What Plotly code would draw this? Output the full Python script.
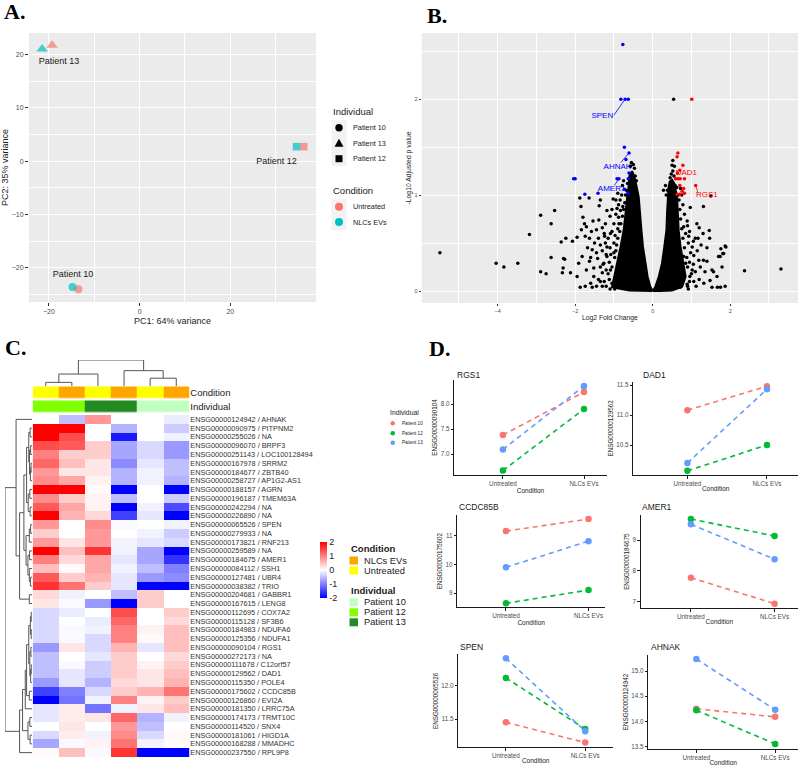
import plotly.graph_objects as go

W, H = 800, 766
def X(px): return px / W
def Y(py): return 1 - py / H
def XD(a, b): return [a / W, b / W]
def YD(top, bot): return [1 - bot / H, 1 - top / H]

FONT = "Liberation Sans, Arial, sans-serif"
SERIF = "Liberation Serif, Times New Roman, serif"
GREY_BG = "#EBEBEB"
TICK_GREY = "#4D4D4D"

# ---------------- Panel A data (PCA) ----------------
pca_individual = ["Patient 10", "Patient 10", "Patient 12", "Patient 12", "Patient 13", "Patient 13"]
pca_condition = ["Untreated", "NLCs EVs", "Untreated", "NLCs EVs", "Untreated", "NLCs EVs"]
pc1 = [-13.5, -14.8, 36.2, 34.6, -19.3, -21.5]
pc2 = [-24.0, -23.6, 2.7, 2.7, 21.7, 21.0]
pca_label_text = ["Patient 13", "Patient 12", "Patient 10"]
pca_label_x = [-17.8, 30.2, -14.7]
pca_label_y = [18.7, -0.2, -21.2]

# ---------------- Panel B data (volcano) ----------------
volc_core_left_x = [0.0, -0.06, -0.13, -0.19, -0.25, -0.29, -0.32, -0.36, -0.42, -0.48, -0.53, -0.6, -0.63, -0.66, -0.70, -0.75, -0.83, -0.92, -1.0, -1.05, -0.6, -0.2, 0.0]
volc_core_left_y = [0.0, 0.045, 0.149, 0.288, 0.462, 0.635, 0.809, 0.98, 1.1, 1.2, 1.25, 1.2, 1.05, 0.98, 0.81, 0.635, 0.46, 0.29, 0.15, 0.04, 0.005, 0.0, 0.0]
volc_core_right_x = [0.0, 0.07, 0.156, 0.24, 0.30, 0.355, 0.37, 0.39, 0.41, 0.44, 0.5, 0.56, 0.6, 0.63, 0.65, 0.67, 0.72, 0.80, 0.85, 0.76, 0.5, 0.2, 0.0]
volc_core_right_y = [0.0, 0.045, 0.149, 0.288, 0.462, 0.635, 0.809, 0.98, 1.08, 1.14, 1.16, 1.12, 1.05, 0.98, 0.81, 0.635, 0.462, 0.288, 0.15, 0.045, 0.005, 0.0, 0.0]
volc_black_pts = [
    (-5.49, 0.40), (-4.04, 0.29), (-3.84, 0.25), (-3.48, 0.29), (-3.18, 0.59), (-2.89, 0.79), (-2.89, 0.20),
    (-2.75, 0.18), (-2.53, 0.84), (-2.62, 0.70), (-2.62, 0.35), (-2.36, 0.51), (-2.24, 0.55), (-2.27, 0.33),
    (-2.31, 0.24), (-2.33, 0.19), (-2.07, 0.52), (-1.95, 0.56), (-1.88, 0.97), (-1.64, 0.97), (-1.35, 0.95),
    (-1.38, 0.89), (-1.85, 0.88), (-1.80, 0.77), (-1.76, 0.70), (-1.71, 0.67), (-1.54, 0.73), (-1.84, 0.64),
    (-1.74, 0.57), (-1.63, 0.55), (-1.45, 0.64), (-1.30, 0.66), (-1.24, 0.57), (-1.09, 0.60), (-1.35, 0.48),
    (-1.18, 0.46), (-1.0, 0.50), (-1.56, 0.43), (-1.82, 0.36), (-1.91, 0.29), (-1.63, 0.31), (-1.42, 0.34),
    (-1.18, 0.36), (-1.71, 0.22), (-1.52, 0.24), (-1.30, 0.19), (-1.09, 0.22), (-0.88, 0.77), (-0.83, 0.84),
    (-0.92, 0.86), (-1.18, 0.84), (-1.39, 0.74), (-1.87, 0.04), (-1.74, 0.05), (-1.56, 0.04), (-1.35, 0.10),
    (-0.96, 0.08), (-1.95, 0.15), (-2.12, 0.19), (-0.83, 0.25), (-0.88, 0.15), (-1.52, 0.15), (-1.26, 0.29),
    (-1.02, 0.96), (-2.30, 0.34),
    (-1.1, 0.02), (-1.2, 0.05), (-1.25, 0.1), (-1.15, 0.18), (-1.05, 0.25), (-0.98, 0.35), (-0.95, 0.42),
    (-0.9, 0.55), (-0.85, 0.62), (-0.82, 0.7), (-0.78, 0.78), (-0.75, 0.85), (-0.72, 0.92), (-0.7, 1.0),
    (-0.68, 1.05), (-0.65, 1.12), (-0.57, 1.3), (-0.55, 1.34), (-0.5, 1.32), (-0.47, 1.28), (-0.45, 1.2),
    (-0.42, 1.15), (-0.88, 0.9), (-0.95, 0.8), (-1.0, 0.7), (-1.05, 0.62), (-1.1, 0.45), (-1.2, 0.38),
    (-1.28, 0.28), (-1.4, 0.12), (-1.45, 0.05), (-1.6, 0.08), (-0.84, 0.95), (-0.8, 1.0), (-0.77, 0.88),
    (-1.12, 0.3), (-1.08, 0.38), (-1.0, 0.4), (-0.93, 0.48), (-0.97, 0.58), (-0.9, 0.65), (-0.87, 0.7),
    (-1.15, 0.55), (-1.22, 0.5), (-1.3, 0.42), (-1.25, 0.6), (-1.4, 0.55), (-1.5, 0.5), (-1.45, 0.4),
    (-1.6, 0.35), (-1.35, 0.25), (-1.2, 0.22), (-1.12, 0.12), (-1.3, 0.05), (-1.05, 0.08), (-0.98, 0.02),
    (-1.68, 0.45), (-1.58, 0.62), (-1.22, 0.7), (-1.1, 0.78), (-1.05, 0.85), (-0.95, 0.95), (-0.9, 1.02),
    (-0.78, 1.1), (-0.75, 1.15),
    (0.54, 2.0), (1.5, 0.99), (1.31, 0.88), (1.14, 0.70), (1.10, 0.55), (1.17, 0.55), (1.46, 0.63), (1.47, 0.55),
    (1.76, 0.44), (1.87, 0.47), (1.81, 0.39), (1.74, 0.36), (2.37, 0.21), (3.31, 0.23), (1.87, 0.05),
    (1.67, 0.04), (1.48, 0.11), (1.57, 0.20), (1.23, 0.25), (1.31, 0.32),
    (0.97, 0.87), (1.02, 0.46), (0.89, 0.73), (0.80, 0.67), (0.93, 0.57), (1.06, 0.37), (0.85, 0.29),
    (1.40, 0.31), (1.53, 0.22), (1.66, 0.15), (1.79, 0.25), (1.83, 0.39), (1.89, 0.46), (1.75, 0.04),
    (1.53, 0.04), (1.32, 0.08), (1.06, 0.10), (0.89, 0.07), (0.71, 0.04), (1.70, 0.36), (1.19, 0.32),
    (1.02, 0.22), (0.76, 0.19), (0.63, 0.12), (0.80, 0.36), (0.96, 0.15),
    (0.9, 0.05), (0.95, 0.1), (1.0, 0.18), (0.9, 0.25), (0.88, 0.35), (0.82, 0.45), (0.78, 0.55),
    (0.75, 0.65), (0.72, 0.75), (0.7, 0.85), (0.68, 0.95), (0.66, 1.0), (0.55, 1.2), (0.52, 1.25),
    (0.5, 1.31), (0.48, 1.22), (0.45, 1.18), (0.58, 1.1), (0.62, 1.08), (1.05, 0.28), (0.98, 0.4),
    (0.92, 0.5), (0.85, 0.6), (0.35, 1.0), (0.38, 1.05), (0.52, 1.36), (0.56, 1.3),
    (0.92, 0.02), (1.12, 0.05), (1.2, 0.12), (1.1, 0.2), (0.95, 0.3), (1.15, 0.42), (1.25, 0.48),
    (1.05, 0.52), (0.95, 0.62), (0.9, 0.68), (0.82, 0.8), (0.78, 0.9), (0.75, 1.0), (0.72, 1.07),
    (1.35, 0.2), (1.4, 0.45), (1.3, 0.6), (1.2, 0.66), (0.28, 1.05), (0.33, 1.1),
]
volc_blue_pts = [(-0.77, 2.57), (-0.82, 2.0), (-0.71, 2.0), (-0.63, 2.0), (-0.73, 1.5), (-0.61, 1.44),
                 (-0.69, 1.37), (-0.61, 1.23), (-0.63, 1.17), (-2.04, 1.17), (-2.0, 1.17), (-0.92, 1.17),
                 (-0.87, 1.17), (-0.73, 1.06), (-1.75, 1.01), (-1.41, 1.02), (-0.64, 1.02)]
volc_red_pts = [(1.01, 2.0), (0.65, 1.44), (0.63, 1.40), (0.78, 1.31), (0.70, 1.26), (0.64, 1.23),
                (0.59, 1.17), (0.65, 1.17), (0.71, 1.17), (0.82, 1.17), (0.70, 1.10), (1.11, 1.10),
                (0.80, 1.07), (0.76, 1.04), (0.63, 1.01), (0.70, 1.01), (0.82, 1.02)]
volc_label_text = ["SPEN", "AHNAK", "AMER1", "DAD1", "RGS1"]
volc_label_color = ["#0000FF", "#0000FF", "#0000FF", "#FF0000", "#FF0000"]
volc_label_x = [-1.30, -0.91, -1.06, 0.87, 1.40]
volc_label_y = [1.82, 1.295, 1.066, 1.23, 1.0]
volc_seg_x0 = [-1.0, -0.82, -0.99, None, 1.11]
volc_seg_y0 = [1.833, 1.34, 1.10, None, 1.10]
volc_seg_x1 = [-0.73, -0.61, -0.87, None, 1.17]
volc_seg_y1 = [1.99, 1.44, 1.17, None, 1.02]

# ---------------- Panel C data (heatmap) ----------------
heat_ensembl = ["ENSG00000124942", "ENSG00000090975", "ENSG00000255026", "ENSG00000096070", "ENSG00000251143",
                "ENSG00000167978", "ENSG00000184677", "ENSG00000258727", "ENSG00000188157", "ENSG00000196187",
                "ENSG00000242294", "ENSG00000226890", "ENSG00000065526", "ENSG00000279933", "ENSG00000173821",
                "ENSG00000259589", "ENSG00000184675", "ENSG00000084112", "ENSG00000127481", "ENSG00000038382",
                "ENSG00000204681", "ENSG00000167615", "ENSG00000112695", "ENSG00000115128", "ENSG00000184983",
                "ENSG00000125356", "ENSG00000090104", "ENSG00000272173", "ENSG00000111678", "ENSG00000129562",
                "ENSG00000115350", "ENSG00000175602", "ENSG00000126860", "ENSG00000181350", "ENSG00000174173",
                "ENSG00000114520", "ENSG00000181061", "ENSG00000168288", "ENSG00000237550"]
heat_symbol = ["AHNAK", "PITPNM2", "NA", "BRPF3", "LOC100128494", "SRRM2", "ZBTB40", "AP1G2-AS1", "AGRN",
               "TMEM63A", "NA", "NA", "SPEN", "NA", "RNF213", "NA", "AMER1", "SSH1", "UBR4", "TRIO", "GABBR1",
               "LENG8", "COX7A2", "SF3B6", "NDUFA6", "NDUFA1", "RGS1", "NA", "C12orf57", "DAD1", "POLE4",
               "CCDC85B", "EVI2A", "LRRC75A", "TRMT10C", "SNX4", "HIGD1A", "MMADHC", "RPL9P8"]
heat_col_condition = ["Untreated", "NLCs EVs", "Untreated", "NLCs EVs", "Untreated", "NLCs EVs"]
heat_col_individual = ["Patient 12", "Patient 12", "Patient 13", "Patient 13", "Patient 10", "Patient 10"]
heat_values = [
    [0.0, -0.5, 0.8, 0.0, 0.0, -0.15],
    [2.0, 2.0, 0.0, -0.6, 0.0, -0.4],
    [2.0, 1.4, 0.0, -1.8, 0.0, -0.1],
    [1.4, 1.3, 0.4, -0.7, -0.3, -0.8],
    [1.0, 0.4, 0.4, -0.7, -0.3, -0.8],
    [1.2, 0.5, 0.2, -0.9, -0.2, -0.5],
    [0.8, 0.2, 0.2, -0.6, -0.1, -0.5],
    [0.9, 0.7, 0.1, -0.6, -0.1, -0.6],
    [2.0, 2.0, 0.05, -2.0, 0.0, -2.0],
    [0.9, 0.4, 0.1, -0.5, 0.0, -0.4],
    [1.3, 0.7, 0.1, -2.0, -0.1, -1.4],
    [2.0, 0.6, 0.3, -1.5, -0.2, -2.0],
    [0.8, 0.0, 0.9, -0.05, 0.0, -0.1],
    [0.4, 0.0, 0.8, 0.0, -0.1, -0.4],
    [0.8, 0.2, 0.8, -0.1, -0.2, -0.3],
    [2.0, 0.5, 1.6, -0.1, -0.7, -2.0],
    [1.0, 0.3, 0.7, -0.2, -0.7, -1.6],
    [0.5, 0.05, 0.7, -0.1, -0.5, -1.0],
    [1.3, 0.4, 0.6, -0.2, -0.8, -0.9],
    [1.6, 1.1, 0.4, -0.2, -2.0, -2.0],
    [0.3, -0.1, 0.0, -0.5, 0.4, 0.0],
    [0.2, -0.05, -0.8, -2.0, 0.4, 0.0],
    [-0.3, -0.15, 0.0, 1.4, 0.0, 0.4],
    [-0.3, 0.0, -0.15, 1.2, 0.0, 0.3],
    [-0.3, -0.05, -0.1, 1.0, 0.1, 0.5],
    [-0.3, -0.05, -0.3, 1.0, 0.05, 0.5],
    [-0.8, 0.2, -0.3, 0.6, -0.2, 0.5],
    [-0.5, 0.0, -0.2, 0.4, 0.0, 0.3],
    [-0.5, -0.05, -0.4, 0.4, 0.1, 0.4],
    [-0.5, -0.2, -0.4, 0.4, 0.2, 0.5],
    [-0.8, -0.2, -0.6, 0.3, 0.2, 0.6],
    [-1.5, -1.0, -0.3, 0.4, 0.6, 1.1],
    [-2.0, -1.1, -0.1, 1.0, 0.1, 0.4],
    [-0.2, 0.15, -1.1, -0.1, 0.2, 0.5],
    [-0.2, 0.15, 0.2, 1.2, -0.6, -0.1],
    [0.0, 0.2, 0.0, 0.8, -0.5, 0.0],
    [-0.3, 0.15, -0.1, 0.9, -0.3, 0.05],
    [-0.7, -0.05, 0.1, 1.1, -0.1, 0.05],
    [0.05, 0.5, -0.05, 1.6, -2.0, -2.0],
]
# dendrograms: [height, left, right]; leaves are column / row indices
heat_col_tree = [1.0, [0.46, [0.14, 0, 1], 2], [0.59, 3, [0.30, 4, 5]]]
_rows_a = [0.2, [0.12, [0.07, 1, 2], [0.09, [0.05, 3, 4], [0.06, [0.035, 5, 6], 7]]], [0.14, [0.08, 8, 9], [0.07, 10, 11]]]
_rows_b = [0.22, [0.1, [0.05, 12, 13], 14], [0.15, [0.09, 15, 16], [0.1, 17, [0.06, 18, 19]]]]
_rows_c = [0.2, [0.12, [0.06, [0.03, 22, 23], [0.03, 24, 25]], [0.08, [0.04, 26, 27], [0.05, [0.03, 28, 29], 30]]], [0.1, 31, 32]]
heat_row_tree = [1.0,
                 [0.59, 0, [0.46, [0.3, _rows_a, _rows_b], [0.1, 20, 21]]],
                 [0.46, [0.35, [0.25, _rows_c, 33], [0.15, [0.08, 34, 35], [0.07, 36, 37]]], 38]]

# ---------------- Panel D data ----------------
d_genes = ["RGS1", "DAD1", "CCDC85B", "AMER1", "SPEN", "AHNAK"]
d_ensembl = ["ENSG00000090104", "ENSG00000129562", "ENSG00000175602", "ENSG00000184675", "ENSG00000065526", "ENSG00000124942"]
d_conditions = ["Untreated", "NLCs EVs"]
p10_untreated = [7.38, 11.08, 11.16, 7.78, 11.45, 14.25]
p10_nlcs = [8.24, 11.48, 11.58, 6.94, 11.15, 14.09]
p12_untreated = [6.67, 10.07, 8.65, 9.68, 12.11, 14.22]
p12_nlcs = [7.90, 10.50, 9.11, 9.13, 11.35, 13.55]
p13_untreated = [7.09, 10.20, 9.90, 9.51, 12.40, 15.24]
p13_nlcs = [8.36, 11.43, 10.81, 8.38, 11.32, 14.23]
d_ticks = [[7.0, 7.5, 8.0], [10.5, 11.0, 11.5], [9, 10, 11], [7, 8, 9], [11.5, 12.0], [13.5, 14.0, 14.5, 15.0]]

# =====================================================================
fig = go.Figure()
shapes, annotations = [], []
layout = dict(width=W, height=H, margin=dict(l=0, r=0, t=0, b=0), paper_bgcolor="white",
              plot_bgcolor="white", showlegend=False, font=dict(family=FONT, color="#1a1a1a"))

# ---------- Panel A ----------
cond_colors = {"Untreated": "#F8766D", "NLCs EVs": "#00BFC4"}
indiv_symbols = {"Patient 10": "circle", "Patient 12": "square", "Patient 13": "triangle-up"}
indiv_sizes = {"Patient 10": 8, "Patient 12": 7.5, "Patient 13": 10}
for cond in ["Untreated", "NLCs EVs"]:
    idx = [i for i, c in enumerate(pca_condition) if c == cond]
    fig.add_trace(go.Scatter(
        x=[pc1[i] for i in idx], y=[pc2[i] for i in idx], mode="markers", xaxis="x", yaxis="y",
        marker=dict(color=cond_colors[cond], symbol=[indiv_symbols[pca_individual[i]] for i in idx],
                    size=[indiv_sizes[pca_individual[i]] for i in idx], line=dict(width=0)),
        hoverinfo="skip"))
fig.add_trace(go.Scatter(x=pca_label_x, y=pca_label_y, text=pca_label_text, mode="text", xaxis="x", yaxis="y",
                         textfont=dict(size=9, color="#1a1a1a"), hoverinfo="skip"))
axA = dict(showgrid=True, gridcolor="white", gridwidth=1, zeroline=False, ticks="outside", ticklen=3,
           tickcolor="#333333", tickfont=dict(size=7, color=TICK_GREY), showline=False)
layout["xaxis"] = dict(axA, domain=XD(29, 316), range=[-24.4, 38.9], tickvals=[-20, 0, 20], anchor="y",
                       minor=dict(tickvals=[-10, 10, 30], showgrid=True, gridcolor="white", gridwidth=0.5),
                       title=dict(text="PC1: 64% variance", font=dict(size=9), standoff=3))
layout["yaxis"] = dict(axA, domain=YD(33, 302), range=[-26.4, 24.0], tickvals=[-20, -10, 0, 10, 20], anchor="x",
                       minor=dict(tickvals=[-25, -15, -5, 5, 15], showgrid=True, gridcolor="white", gridwidth=0.5),
                       title=dict(text="PC2: 35% variance", font=dict(size=9), standoff=3))
shapes.append(dict(type="rect", xref="x domain", yref="y domain", x0=0, x1=1, y0=0, y1=1,
                   fillcolor=GREY_BG, line_width=0, layer="below"))

# Panel A legend (drawn keys)
KEY_BG = "#F2F2F2"
annotations.append(dict(text="Individual", x=X(331), y=Y(111), xref="paper", yref="paper", xanchor="left",
                        yanchor="middle", showarrow=False, font=dict(size=9.5)))
ind_key_y = [127.7, 143.3, 158.7]
ind_key_names = ["Patient 10", "Patient 13", "Patient 12"]
shapes.append(dict(type="rect", xref="paper", yref="paper", x0=X(331.5), x1=X(346.5), y0=Y(166), y1=Y(120),
                   fillcolor=KEY_BG, line_width=0))
for yc, nm in zip(ind_key_y, ind_key_names):
    if indiv_symbols[nm] == "circle":
        shapes.append(dict(type="circle", xref="paper", yref="paper", x0=X(335.3), x1=X(342.7), y0=Y(yc + 3.7),
                           y1=Y(yc - 3.7), fillcolor="black", line_width=0))
    elif indiv_symbols[nm] == "square":
        shapes.append(dict(type="rect", xref="paper", yref="paper", x0=X(335.5), x1=X(342.5), y0=Y(yc + 3.5),
                           y1=Y(yc - 3.5), fillcolor="black", line_width=0))
    else:
        shapes.append(dict(type="path", xref="paper", yref="paper",
                           path=f"M {X(334.5)},{Y(yc+3.5)} L {X(343.5)},{Y(yc+3.5)} L {X(339)},{Y(yc-4.5)} Z",
                           fillcolor="black", line_width=0))
    annotations.append(dict(text=nm, x=X(351), y=Y(yc), xref="paper", yref="paper", xanchor="left",
                            yanchor="middle", showarrow=False, font=dict(size=7.3)))
annotations.append(dict(text="Condition", x=X(331), y=Y(190), xref="paper", yref="paper", xanchor="left",
                        yanchor="middle", showarrow=False, font=dict(size=9.5)))
cond_key_y = [206.7, 222.0]
shapes.append(dict(type="rect", xref="paper", yref="paper", x0=X(331.5), x1=X(346.5), y0=Y(230), y1=Y(199),
                   fillcolor=KEY_BG, line_width=0))
for yc, nm in zip(cond_key_y, ["Untreated", "NLCs EVs"]):
    shapes.append(dict(type="circle", xref="paper", yref="paper", x0=X(335), x1=X(343), y0=Y(yc + 4),
                       y1=Y(yc - 4), fillcolor=cond_colors[nm], line_width=0))
    annotations.append(dict(text=nm, x=X(351), y=Y(yc), xref="paper", yref="paper", xanchor="left",
                            yanchor="middle", showarrow=False, font=dict(size=7.3)))

# ---------- Panel B ----------
for cx, cy in [(volc_core_left_x, volc_core_left_y), (volc_core_right_x, volc_core_right_y)]:
    fig.add_trace(go.Scatter(x=cx, y=cy, mode="lines", fill="toself", fillcolor="black",
                             line=dict(color="black", width=2), xaxis="x2", yaxis="y2", hoverinfo="skip"))
for pts, col in [(volc_black_pts, "black"), (volc_blue_pts, "#0000FF"), (volc_red_pts, "#FF0000")]:
    fig.add_trace(go.Scatter(x=[p[0] for p in pts], y=[p[1] for p in pts], mode="markers", xaxis="x2", yaxis="y2",
                             marker=dict(color=col, size=3.5, line=dict(width=0)), hoverinfo="skip"))
for i in range(len(volc_label_text)):
    if volc_seg_x0[i] is not None:
        fig.add_trace(go.Scatter(x=[volc_seg_x0[i], volc_seg_x1[i]], y=[volc_seg_y0[i], volc_seg_y1[i]],
                                 mode="lines", line=dict(color=volc_label_color[i], width=0.8),
                                 xaxis="x2", yaxis="y2", hoverinfo="skip"))
    fig.add_trace(go.Scatter(x=[volc_label_x[i]], y=[volc_label_y[i]], text=[volc_label_text[i]], mode="text",
                             textfont=dict(size=8, color=volc_label_color[i]), xaxis="x2", yaxis="y2",
                             hoverinfo="skip"))
axB = dict(showgrid=True, gridcolor="white", gridwidth=1, zeroline=False, ticks="outside", ticklen=2,
           tickcolor="#333333", tickfont=dict(size=5.5, color=TICK_GREY), showline=False)
layout["xaxis2"] = dict(axB, domain=XD(421.7, 798), range=[-5.96, 3.75], tickvals=[-4, -2, 0, 2], anchor="y2",
                        minor=dict(tickvals=[-5, -3, -1, 1, 3], showgrid=True, gridcolor="white", gridwidth=0.5),
                        title=dict(text="Log2 Fold Change", font=dict(size=6.8), standoff=2))
layout["yaxis2"] = dict(axB, domain=YD(33, 303), range=[-0.125, 2.69], tickvals=[0, 1, 2], anchor="x2",
                        minor=dict(tickvals=[0.5, 1.5, 2.5], showgrid=True, gridcolor="white", gridwidth=0.5),
                        title=dict(text="-Log10 Adjusted p value", font=dict(size=6.8), standoff=2))
shapes.append(dict(type="rect", xref="x2 domain", yref="y2 domain", x0=0, x1=1, y0=0, y1=1,
                   fillcolor=GREY_BG, line_width=0, layer="below"))

# ---------- Panel C ----------
n_rows = len(heat_values)
HM_TOP, HM_BOT, HM_L, HM_R = 415, 757, 32.7, 189.3
fig.add_trace(go.Heatmap(
    z=heat_values, x=list(range(6)), y=list(range(n_rows)), zmin=-2, zmax=2,
    colorscale=[[0, "#0000FF"], [0.5, "#FFFFFF"], [1, "#FF0000"]], xaxis="x3", yaxis="y3", hoverinfo="skip",
    colorbar=dict(x=X(320), xanchor="left", y=Y(569.5), yanchor="middle", len=55.6 / H, lenmode="fraction",
                  thickness=7, thicknessmode="pixels", tickvals=[-2, -1, 0, 1, 2],
                  ticktext=["-2", "-1", "0", "1", "2"], ticks="", tickfont=dict(size=9, color="#1a1a1a"),
                  outlinewidth=0, xpad=0, ypad=0)))
layout["xaxis3"] = dict(domain=XD(HM_L, HM_R), range=[-0.5, 5.5], visible=False, anchor="y3")
layout["yaxis3"] = dict(domain=YD(HM_TOP, HM_BOT), range=[n_rows - 0.5, -0.5], anchor="x3", side="right",
                        tickvals=list(range(n_rows)),
                        ticktext=[f"{e} / {s}" for e, s in zip(heat_ensembl, heat_symbol)],
                        ticks="", showgrid=False, zeroline=False, showline=False,
                        tickfont=dict(size=7.3, color="#333333"))

anno_colors = {"Untreated": "#FFFF00", "NLCs EVs": "#FFA500", "Patient 10": "#C1FFC1",
               "Patient 12": "#7FFF00", "Patient 13": "#228B22"}
anno_keys = list(anno_colors.keys())
anno_z = [[anno_keys.index(c) for c in heat_col_condition], [anno_keys.index(c) for c in heat_col_individual]]
cs = []
bounds = [0, 0.125, 0.375, 0.625, 0.875, 1]
for k, key in enumerate(anno_keys):
    cs.append([bounds[k], anno_colors[key]])
    cs.append([bounds[k + 1], anno_colors[key]])
fig.add_trace(go.Heatmap(z=anno_z, x=list(range(6)), y=[0, 1], zmin=0, zmax=4, colorscale=cs, showscale=False,
                         ygap=2.4, xaxis="x4", yaxis="y4", hoverinfo="skip"))
layout["xaxis4"] = dict(domain=XD(HM_L, HM_R), range=[-0.5, 5.5], visible=False, anchor="y4")
layout["yaxis4"] = dict(domain=YD(385.5, 413.5), range=[1.5, -0.5], anchor="x4", side="right", tickvals=[0, 1],
                        ticktext=["Condition", "Individual"], ticks="", showgrid=False, zeroline=False,
                        tickfont=dict(size=9.5, color="#1a1a1a"))


def dendro(node):
    if isinstance(node, int):
        return float(node), 0.0, [], []
    h, left, right = node
    pl, hl, al, bl = dendro(left)
    pr, hr, ar, br = dendro(right)
    return (pl + pr) / 2, h, al + ar + [pl, pl, pr, pr, None], bl + br + [hl, h, h, hr, None]


_, _, cpos, chgt = dendro(heat_col_tree)
fig.add_trace(go.Scatter(x=cpos, y=chgt, mode="lines", line=dict(color="#555555", width=1), xaxis="x5",
                         yaxis="y5", hoverinfo="skip"))
layout["xaxis5"] = dict(domain=XD(HM_L, HM_R), range=[-0.5, 5.5], visible=False, anchor="y5")
layout["yaxis5"] = dict(domain=YD(360, 386), range=[0, 1.0], visible=False, anchor="x5")
_, _, rpos, rhgt = dendro(heat_row_tree)
fig.add_trace(go.Scatter(x=rhgt, y=rpos, mode="lines", line=dict(color="#555555", width=1), xaxis="x6",
                         yaxis="y6", hoverinfo="skip"))
layout["xaxis6"] = dict(domain=XD(5, 32), range=[1.0, 0], visible=False, anchor="y6")
layout["yaxis6"] = dict(domain=YD(HM_TOP, HM_BOT), range=[n_rows - 0.5, -0.5], visible=False, anchor="x6")

# heatmap annotation legend
annotations.append(dict(text="<b>Condition</b>", x=X(349), y=Y(548), xref="paper", yref="paper",
                        xanchor="left", yanchor="middle", showarrow=False, font=dict(size=9.5)))
leg_rows = [("NLCs EVs", 560.5), ("Untreated", 570.5)]
annotations.append(dict(text="<b>Individual</b>", x=X(349), y=Y(590), xref="paper", yref="paper",
                        xanchor="left", yanchor="middle", showarrow=False, font=dict(size=9.5)))
leg_rows += [("Patient 10", 602.3), ("Patient 12", 612.3), ("Patient 13", 622.3)]
for nm, yc in leg_rows:
    shapes.append(dict(type="rect", xref="paper", yref="paper", x0=X(349.5), x1=X(358), y0=Y(yc + 4),
                       y1=Y(yc - 4), fillcolor=anno_colors[nm], line_width=0))
    annotations.append(dict(text=nm, x=X(361.5), y=Y(yc), xref="paper", yref="paper", xanchor="left",
                            yanchor="middle", showarrow=False, font=dict(size=9.3)))

# ---------- Panel D ----------
pat_colors = {"Patient 10": "#F8766D", "Patient 12": "#00BA38", "Patient 13": "#619CFF"}
pat_data = {"Patient 10": (p10_untreated, p10_nlcs), "Patient 12": (p12_untreated, p12_nlcs),
            "Patient 13": (p13_untreated, p13_nlcs)}
d_xdom = [(454.3, 606.7), (633.3, 798), (457.3, 605), (640.7, 798), (458.3, 613), (648.3, 798)]
d_ydom = [(380, 475), (381.7, 475), (515, 607.3), (515, 608.3), (654.3, 747.3), (655, 749)]
d_xrng = [[-0.60, 1.28], [-0.68, 1.39], [-0.59, 1.2], [-0.6, 1.28], [-0.6, 1.35], [-0.61, 1.29]]
d_yrng = [[6.58, 8.48], [10.0, 11.555], [8.51, 11.72], [6.79, 9.81], [11.08, 12.46], [13.45, 15.32]]
d_title_pos = [(455, 375), (640.7, 375), (457.3, 506.7), (640, 506.7), (458.3, 647.3), (649.3, 647.3)]
for k, g in enumerate(d_genes):
    xa, ya = f"x{7 + k}", f"y{7 + k}"
    for pat in ["Patient 10", "Patient 12", "Patient 13"]:
        u, n = pat_data[pat]
        fig.add_trace(go.Scatter(x=d_conditions, y=[u[k], n[k]], mode="lines+markers", xaxis=xa, yaxis=ya,
                                 line=dict(color=pat_colors[pat], width=1.6, dash="5px,4px"),
                                 marker=dict(color=pat_colors[pat], size=6.5), hoverinfo="skip"))
    fmt = ".1f" if any(t != int(t) for t in d_ticks[k]) else "d"
    layout[f"xaxis{7 + k}"] = dict(domain=XD(*d_xdom[k]), range=d_xrng[k], type="category",
                                   categoryorder="array", categoryarray=d_conditions, anchor=ya,
                                   showline=True, linecolor="#1a1a1a", linewidth=1, ticks="outside", ticklen=2.5,
                                   tickcolor="#1a1a1a", tickfont=dict(size=6.3, color=TICK_GREY), showgrid=False,
                                   zeroline=False, title=dict(text="Condition", font=dict(size=6.5), standoff=0))
    layout[f"yaxis{7 + k}"] = dict(domain=YD(*d_ydom[k]), range=d_yrng[k], anchor=xa, tickvals=d_ticks[k],
                                   tickformat=fmt, showline=True, linecolor="#1a1a1a", linewidth=1,
                                   ticks="outside", ticklen=2.5, tickcolor="#1a1a1a",
                                   tickfont=dict(size=6.3, color=TICK_GREY), showgrid=False, zeroline=False,
                                   title=dict(text=d_ensembl[k], font=dict(size=6.3), standoff=2))
    tx, ty = d_title_pos[k]
    annotations.append(dict(text=g, x=X(tx), y=Y(ty), xref="paper", yref="paper", xanchor="left",
                            yanchor="middle", showarrow=False, font=dict(size=8.5)))

# Panel D legend
annotations.append(dict(text="Individual", x=X(388), y=Y(412.7), xref="paper", yref="paper", xanchor="left",
                        yanchor="middle", showarrow=False, font=dict(size=6.8)))
for nm, yc in [("Patient 10", 423.3), ("Patient 12", 433.3), ("Patient 13", 442.7)]:
    shapes.append(dict(type="circle", xref="paper", yref="paper", x0=X(390.5), x1=X(395), y0=Y(yc + 2.3),
                       y1=Y(yc - 2.3), fillcolor=pat_colors[nm], line_width=0))
    annotations.append(dict(text=nm, x=X(400), y=Y(yc), xref="paper", yref="paper", xanchor="left",
                            yanchor="middle", showarrow=False, font=dict(size=4.6)))

# Panel letters
for lab, px, py in [("A.", 2, 12), ("B.", 425, 15), ("C.", 3, 347), ("D.", 427, 348)]:
    annotations.append(dict(text=f"<b>{lab}</b>", x=X(px), y=Y(py), xref="paper", yref="paper", xanchor="left",
                            yanchor="middle", showarrow=False, font=dict(size=22, family=SERIF, color="black")))

layout["shapes"] = shapes
layout["annotations"] = annotations
fig.update_layout(**layout)
fig.write_html("out.html", config={"displayModeBar": False},
               post_script="document.body.style.margin='0px';document.body.style.overflow='hidden';")
